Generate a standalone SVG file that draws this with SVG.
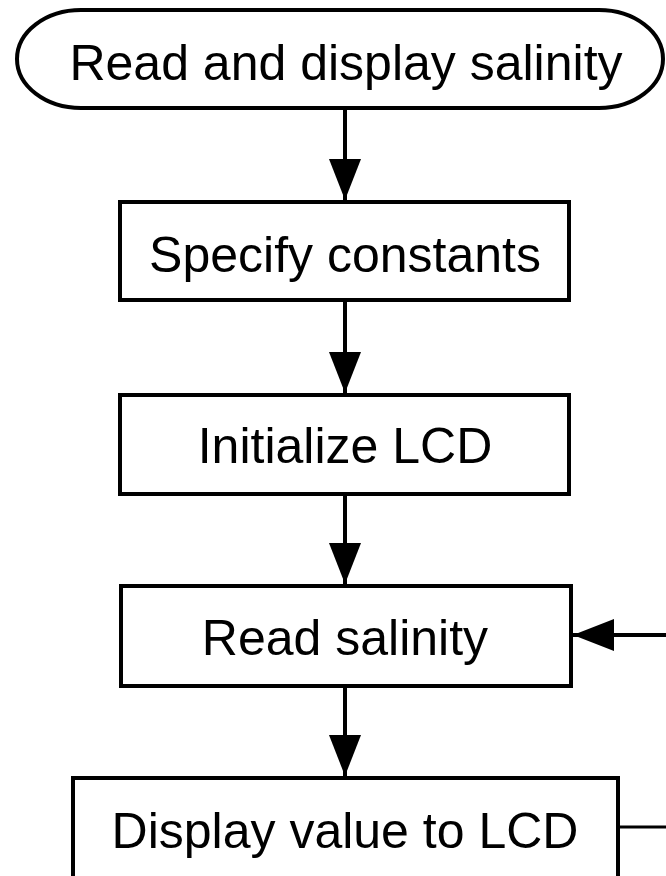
<svg xmlns="http://www.w3.org/2000/svg" width="666" height="876" viewBox="0 0 666 876">
<style>
.box{fill:#fff;stroke:#000;stroke-width:4}
.t{font-family:"Liberation Sans",Arial,Helvetica,sans-serif;font-size:50px;fill:#000;text-anchor:middle}
.c{stroke:#000;stroke-width:4;fill:none}
</style>
<defs>
<marker id="ah" markerUnits="userSpaceOnUse" markerWidth="42" markerHeight="32" refX="41" refY="16" orient="auto">
<path d="M0,0 L41,16 L0,32 Z" fill="#000"/>
</marker>
</defs>
<g id="connectors">
<line class="c" x1="345" y1="108" x2="345" y2="200" marker-end="url(#ah)"/>
<line class="c" x1="345" y1="302" x2="345" y2="393" marker-end="url(#ah)"/>
<line class="c" x1="345" y1="496" x2="345" y2="584" marker-end="url(#ah)"/>
<line class="c" x1="345" y1="687" x2="345" y2="776" marker-end="url(#ah)"/>
<line class="c" x1="666" y1="635" x2="573" y2="635" marker-end="url(#ah)"/>
<line class="c" x1="618" y1="827" x2="666" y2="827" style="stroke-width:3"/>
</g>
<g id="start">
<rect class="box" x="17" y="10" width="646" height="98" rx="64" ry="49"/>
<text class="t" x="346" y="80">Read and display salinity</text>
</g>
<g id="specify">
<rect class="box" x="120" y="202" width="449" height="98"/>
<text class="t" x="345" y="272">Specify constants</text>
</g>
<g id="init">
<rect class="box" x="120" y="395" width="449" height="99"/>
<text class="t" x="345" y="463">Initialize LCD</text>
</g>
<g id="read">
<rect class="box" x="121" y="586" width="450" height="100"/>
<text class="t" x="345" y="655">Read salinity</text>
</g>
<g id="display">
<rect class="box" x="73" y="778" width="545" height="110"/>
<text class="t" x="345" y="848">Display value to LCD</text>
</g>
</svg>
